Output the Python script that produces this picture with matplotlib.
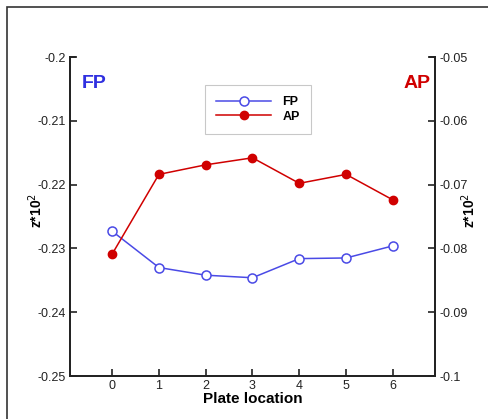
import matplotlib
matplotlib.use("Agg")
import matplotlib.pyplot as plt
from matplotlib.patches import Rectangle

plt.rcParams['font.family'] = ['Liberation Sans', 'DejaVu Sans']

locations = [0, 1, 2, 3, 4, 5, 6]
fp_vals = [-0.2273, -0.2330, -0.2342, -0.2346, -0.2316, -0.2315, -0.2296]
ap_vals = [-0.0809, -0.0684, -0.0669, -0.0658, -0.0698, -0.0684, -0.0724]
fp_ticks = [-0.25, -0.24, -0.23, -0.22, -0.21, -0.2]
fp_labels = ['-0.25', '-0.24', '-0.23', '-0.22', '-0.21', '-0.2']
ap_ticks = [-0.1, -0.09, -0.08, -0.07, -0.06, -0.05]
ap_labels = ['-0.1', '-0.09', '-0.08', '-0.07', '-0.06', '-0.05']

blue = '#4a4ae6'
red = '#d00000'

fig = plt.figure(figsize=(4.89, 4.19), dpi=100)
# outer frame (cut off at the right and bottom)
fig.patches.append(Rectangle((7 / 489, -0.1), 1.2, 1 - 7 / 419 + 0.1,
                             transform=fig.transFigure, fill=False,
                             edgecolor='#333333', linewidth=1.2))

ax = fig.add_axes([70 / 489, 1 - 376 / 419, 365 / 489, 319 / 419])
ax2 = ax.twinx()

l1, = ax.plot(locations, fp_vals, color=blue, lw=1.1, marker='o', ms=6.5,
              mfc='white', mec=blue, mew=1.1)
l2, = ax2.plot(locations, ap_vals, color=red, lw=1.1, marker='o', ms=6,
               mfc=red, mec=red)

ax.set_xlim(-0.9, 6.9)
ax.set_ylim(-0.25, -0.2)
ax2.set_ylim(-0.1, -0.05)
ax.set_xticks(locations)
ax.set_yticks(fp_ticks)
ax.set_yticklabels(fp_labels)
ax2.set_yticks(ap_ticks)
ax2.set_yticklabels(ap_labels)

for a in (ax, ax2):
    a.spines['top'].set_visible(False)
    for s in a.spines.values():
        s.set_linewidth(1.3)
        s.set_color('#222222')
    a.tick_params(direction='in', length=5, width=1.2, labelsize=9,
                  colors='#222222', pad=3)

ax.set_xlabel('Plate location', fontsize=11, fontweight='bold', labelpad=0)
ax.set_ylabel('z*10$^2$', fontsize=10, fontweight='bold')
ax2.set_ylabel('z*10$^2$', fontsize=10, fontweight='bold')
ax.yaxis.set_label_coords(-0.069, 0.52)
ax2.yaxis.set_label_coords(1.068, 0.52)

# short caps at the top of the side axes
ax.plot([-0.9, -0.9 + 0.1], [-0.2, -0.2], color='#222222', lw=1.3, clip_on=False)
ax2.plot([6.9 - 0.1, 6.9], [-0.05, -0.05], color='#222222', lw=1.3, clip_on=False)

ax.text(-0.65, -0.2041, 'FP', color='#3030e0', fontsize=14, fontweight='bold',
        va='center', ha='left')
ax.text(6.8, -0.2041, 'AP', color=red, fontsize=14, fontweight='bold',
        va='center', ha='right')

leg = ax.legend([l1, l2], ['FP', 'AP'], loc='upper left',
                bbox_to_anchor=(0.37, 0.912), borderaxespad=0, fontsize=9,
                frameon=True, fancybox=False, edgecolor='#bbbbbb',
                handlelength=4.4, borderpad=0.9, labelspacing=0.2,
                handletextpad=0.9)
leg.get_frame().set_linewidth(0.8)
for t in leg.get_texts():
    t.set_fontweight('bold')

fig.savefig('out.png', dpi=100)
